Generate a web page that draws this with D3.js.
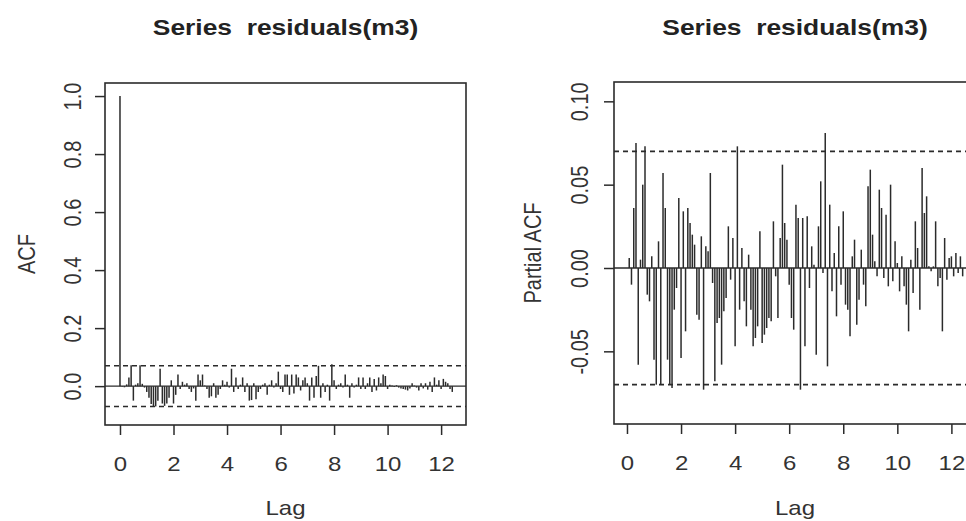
<!DOCTYPE html>
<html>
<head>
<meta charset="utf-8">
<script src="https://cdn.jsdelivr.net/npm/d3@7"></script>
<style>
  body { margin: 0; background: #fff; }
  svg { display: block; font-family: "Liberation Sans", Arial, sans-serif; }
  .tick line { stroke: #2b2b2b; stroke-width: 1.5; }
  .tick text { fill: #333; font-size: 20px; }
</style>
</head>
<body>
<div id="chart"></div>
<script>
// ACF of residuals(m3), lags 0..149 (monthly, 1/12 lag step)
var acfValues = [
  1.000, -0.002, -0.004, 0.006, 0.030, 0.072, -0.050, 0.005, 0.010, 0.072,
  0.008, -0.005, -0.020, -0.040, -0.062, -0.070, -0.070, -0.050, 0.060, -0.060,
  -0.068, -0.060, -0.040, 0.020, -0.060, -0.030, 0.040, -0.010, 0.015, 0.005,
  0.010, -0.010, -0.020, -0.008, -0.050, 0.040, 0.020, 0.040, 0.002, -0.010,
  -0.040, -0.035, 0.010, -0.040, -0.030, -0.010, 0.020, 0.005, 0.015, -0.005,
  0.060, -0.020, 0.030, -0.010, 0.005, 0.030, -0.020, 0.010, -0.050, -0.048,
  0.010, -0.045, -0.020, -0.010, 0.005, 0.010, -0.030, 0.005, 0.020, -0.005,
  0.010, 0.050, -0.010, -0.020, 0.040, 0.040, -0.030, 0.040, -0.025, 0.040,
  0.030, -0.015, 0.020, 0.030, 0.010, -0.050, 0.030, -0.040, 0.035, 0.070,
  -0.040, 0.010, -0.020, 0.005, -0.050, 0.075, 0.020, -0.010, 0.005, 0.010,
  -0.005, 0.040, 0.005, -0.040, 0.010, -0.005, 0.005, 0.030, -0.010, 0.030,
  -0.010, 0.010, 0.030, -0.020, 0.025, -0.015, 0.030, 0.010, 0.040, 0.035,
  -0.010, 0.005, 0.002, -0.003, 0.003, -0.005, -0.008, -0.010, -0.012, -0.015,
  -0.008, 0.010, 0.002, -0.005, -0.015, 0.010, -0.008, 0.010, -0.012, 0.015,
  -0.020, 0.030, 0.005, 0.020, -0.010, 0.025, 0.015, 0.010, -0.010, -0.020
];

// PACF of residuals(m3), lags 1..149
var pacfValues = [
  0.006, -0.010, 0.036, 0.075, -0.058, 0.005, 0.050, 0.073, -0.016, -0.020,
  0.007, -0.055, -0.070, 0.016, -0.070, 0.057, 0.036, -0.055, -0.070, -0.072,
  -0.025, -0.012, 0.042, -0.054, 0.034, -0.038, 0.036, 0.027, 0.020, 0.014,
  -0.028, -0.031, 0.019, -0.073, 0.013, 0.010, 0.057, -0.009, -0.068, -0.033,
  -0.030, -0.058, -0.026, -0.018, 0.025, -0.007, 0.018, -0.047, 0.073, -0.025,
  0.012, -0.020, -0.035, 0.008, -0.025, -0.047, -0.042, -0.035, 0.022, -0.045,
  -0.040, -0.036, -0.030, -0.032, 0.028, -0.005, -0.030, 0.018, 0.062, 0.027,
  0.017, -0.010, -0.030, -0.037, 0.038, 0.030, -0.073, 0.030, -0.047, 0.031,
  -0.012, 0.013, 0.002, -0.052, 0.025, 0.052, -0.003, 0.081, -0.059, 0.038,
  -0.014, 0.009, -0.029, 0.025, -0.010, 0.034, -0.022, -0.025, -0.041, 0.007,
  0.017, -0.034, -0.019, 0.011, -0.010, -0.023, 0.049, 0.059, 0.020, 0.004,
  -0.005, 0.047, 0.036, -0.006, 0.032, -0.011, 0.050, -0.008, 0.016, 0.003,
  -0.014, 0.007, -0.011, -0.022, -0.038, 0.005, -0.015, 0.028, 0.012, -0.025,
  0.060, 0.033, 0.043, 0.001, -0.002, 0.001, 0.028, -0.011, -0.006, -0.038,
  0.018, -0.007, 0.006, 0.007, -0.005, 0.009, -0.003, 0.007, -0.005
];

var lagStep = 1 / 12;
var lagTicks = [0, 2, 4, 6, 8, 10, 12];
var acfTicks = [0, 0.2, 0.4, 0.6, 0.8, 1.0];
var acfTickLabels = ["0.0", "0.2", "0.4", "0.6", "0.8", "1.0"];
var pacfTicks = [-0.05, 0, 0.05, 0.10];
var pacfTickLabels = ["-0.05", "0.00", "0.05", "0.10"];
var confBound = 0.07;

var chartTitle = "Series  residuals(m3)";
var stretch = 1.2;   // the scanned picture is wider than tall
var ink = "#2b2b2b";

var svg = d3.select("#chart").append("svg")
    .attr("width", 966)
    .attr("height", 521);

function drawPanel(opts) {
    var box = opts.box;
    var x = d3.scaleLinear().domain(opts.xDomain).range([box.left, box.right]);
    var y = d3.scaleLinear().domain(opts.yDomain).range([box.bottom, box.top]);

    var g = svg.append("g");

    // confidence bounds
    [confBound, -confBound].forEach(function (b) {
        g.append("line")
            .attr("x1", box.left).attr("x2", box.right)
            .attr("y1", y(b)).attr("y2", y(b))
            .attr("stroke", ink)
            .attr("stroke-width", 1.6)
            .attr("stroke-dasharray", "5,4");
    });

    // zero line
    g.append("line")
        .attr("x1", box.left).attr("x2", box.right)
        .attr("y1", y(0)).attr("y2", y(0))
        .attr("stroke", ink)
        .attr("stroke-width", 1.4);

    // spikes
    g.selectAll(".spike")
        .data(opts.values)
        .enter().append("line")
        .attr("class", "spike")
        .attr("x1", function (d, i) { return x((i + opts.firstLag) * lagStep); })
        .attr("x2", function (d, i) { return x((i + opts.firstLag) * lagStep); })
        .attr("y1", y(0))
        .attr("y2", function (d) { return y(d); })
        .attr("stroke", ink)
        .attr("stroke-width", 1.5);

    // box
    g.append("rect")
        .attr("x", box.left).attr("y", box.top)
        .attr("width", box.right - box.left)
        .attr("height", box.bottom - box.top)
        .attr("fill", "none")
        .attr("stroke", ink)
        .attr("stroke-width", 1.6);

    // x axis
    var xAxis = g.append("g")
        .attr("transform", "translate(0," + box.bottom + ")")
        .call(d3.axisBottom(x).tickValues(lagTicks).tickSize(10).tickFormat(d3.format("d")));
    xAxis.select(".domain").remove();
    xAxis.selectAll(".tick text")
        .attr("y", 0).attr("dy", null)
        .attr("text-anchor", "middle")
        .attr("transform", "translate(0,46) scale(" + stretch + ",1)");

    // y axis, labels turned as in R (las = 0)
    var yAxis = g.append("g")
        .attr("transform", "translate(" + box.left + ",0)")
        .call(d3.axisLeft(y).tickValues(opts.yTicks).tickSize(10)
            .tickFormat(function (d, i) { return opts.yTickLabels[i]; }));
    yAxis.select(".domain").remove();
    yAxis.selectAll(".tick text")
        .attr("x", 0).attr("dy", null)
        .attr("text-anchor", "middle")
        .attr("transform", "translate(" + opts.yLabelOffset + ",0) scale(" + stretch + ",1) rotate(-90)");

    var cx = (box.left + box.right) / 2;
    var cy = (box.top + box.bottom) / 2;

    svg.append("text")
        .attr("transform", "translate(" + cx + ",35) scale(" + stretch + ",1)")
        .attr("text-anchor", "middle")
        .style("font-size", "22px")
        .style("font-weight", "bold")
        .style("white-space", "pre")
        .attr("fill", "#222")
        .text(chartTitle);

    svg.append("text")
        .attr("transform", "translate(" + cx + ",515) scale(" + stretch + ",1)")
        .attr("text-anchor", "middle")
        .style("font-size", "20px")
        .attr("fill", "#333")
        .text("Lag");

    svg.append("text")
        .attr("transform", "translate(" + opts.yTitleX + "," + cy + ") scale(" + stretch + ",1) rotate(-90)")
        .attr("text-anchor", "middle")
        .style("font-size", "20px")
        .attr("fill", "#333")
        .text(opts.yTitle);
}

drawPanel({
    box: { left: 105, right: 466, top: 83, bottom: 425 },
    xDomain: [-0.56, 12.93],
    yDomain: [-0.134, 1.045],
    values: acfValues,
    firstLag: 0,
    yTicks: acfTicks,
    yTickLabels: acfTickLabels,
    yLabelOffset: -24,
    yTitle: "ACF",
    yTitleX: 35
});

drawPanel({
    box: { left: 614, right: 976, top: 82, bottom: 424 },
    xDomain: [-0.48, 12.91],
    yDomain: [-0.0936, 0.1116],
    values: pacfValues,
    firstLag: 1,
    yTicks: pacfTicks,
    yTickLabels: pacfTickLabels,
    yLabelOffset: -26,
    yTitle: "Partial ACF",
    yTitleX: 541
});
</script>
</body>
</html>
